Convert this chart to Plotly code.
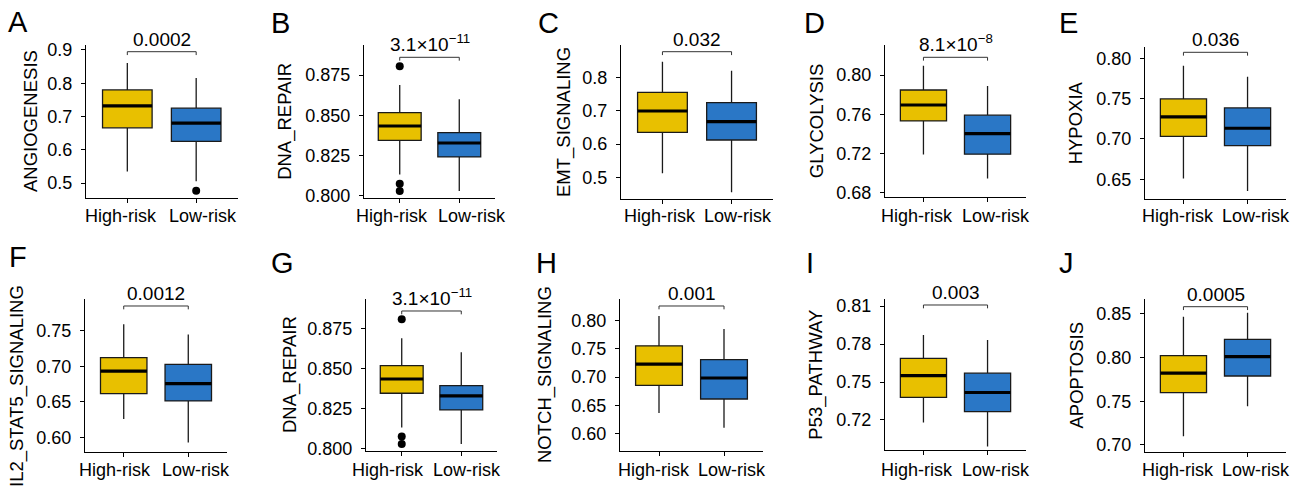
import plotly.graph_objects as go

# ---------------- data ----------------
panel_letters = ["A", "B", "C", "D", "E", "F", "G", "H", "I", "J"]
y_titles = ["ANGIOGENESIS", "DNA_REPAIR", "EMT_SIGNALING", "GLYCOLYSIS", "HYPOXIA",
            "IL2_STAT5_SIGNALING", "DNA_REPAIR", "NOTCH_SIGNALING", "P53_PATHWAY", "APOPTOSIS"]
p_values = ["0.0002", "3.1×10<sup>−11</sup>", "0.032", "8.1×10<sup>−8</sup>", "0.036",
            "0.0012", "3.1×10<sup>−11</sup>", "0.001", "0.003", "0.0005"]
groups = ["High-risk", "Low-risk"]

high_lower = [0.535, 0.813, 0.512, 0.719, 0.651, 0.626, 0.813, 0.636, 0.718, 0.710]
high_q1 = [0.666, 0.8344, 0.635, 0.7532, 0.7032, 0.6618, 0.8344, 0.6852, 0.7379, 0.760]
high_median = [0.732, 0.8433, 0.699, 0.7694, 0.7273, 0.6933, 0.8433, 0.723, 0.755, 0.7822]
high_q3 = [0.780, 0.8517, 0.755, 0.7847, 0.7496, 0.7123, 0.8517, 0.7553, 0.7686, 0.8023]
high_upper = [0.861, 0.8688, 0.847, 0.8095, 0.7908, 0.7595, 0.8688, 0.8083, 0.7871, 0.8469]
high_outliers = [[], [0.8806, 0.8073, 0.8027], [], [], [], [], [0.8806, 0.8073, 0.8027], [], [], []]

low_lower = [0.505, 0.8027, 0.455, 0.6945, 0.6356, 0.593, 0.8027, 0.610, 0.699, 0.7443]
low_q1 = [0.625, 0.8240, 0.612, 0.7193, 0.6917, 0.6514, 0.8240, 0.661, 0.7266, 0.779]
low_median = [0.680, 0.8327, 0.667, 0.7403, 0.7133, 0.6757, 0.8327, 0.6982, 0.7417, 0.8011]
low_q3 = [0.725, 0.8392, 0.724, 0.759, 0.7385, 0.7028, 0.8392, 0.7309, 0.757, 0.821]
low_upper = [0.816, 0.860, 0.820, 0.7888, 0.777, 0.745, 0.860, 0.785, 0.7832, 0.8515]
low_outliers = [[0.477], [], [], [], [], [], [], [], [], []]

# ---------------- axes / layout config ----------------
y_ranges = [(0.455, 0.915), (0.7986, 0.8938), (0.435, 0.897), (0.6753, 0.8306), (0.6256, 0.8144),
            (0.580, 0.7945), (0.7985, 0.8931), (0.5693, 0.8378), (0.6963, 0.8153), (0.6923, 0.8668)]
y_tick0 = [0.5, 0.8, 0.5, 0.68, 0.65, 0.60, 0.8, 0.60, 0.72, 0.70]
y_dtick = [0.1, 0.025, 0.1, 0.04, 0.05, 0.05, 0.025, 0.05, 0.03, 0.05]
y_fmt = [".1f", ".3f", ".1f", ".2f", ".2f", ".2f", ".3f", ".2f", ".2f", ".2f"]

W, H = 1303, 486
px_x0 = [86, 364, 621, 885, 1145, 85, 366, 620, 885, 1145]
px_x1 = [237.5, 495, 773, 1026, 1286, 227, 497, 763, 1026, 1286]
px_top = [45, 45, 45, 45, 46.7, 299.3, 299.3, 299.3, 299.3, 299.3]
px_bot = [198, 197.7, 199, 197.3, 199, 451.7, 450.7, 450.7, 450, 451.7]
px_bracket = [51.7, 57.3, 51.7, 57.3, 52.3, 306, 311, 306, 305, 306.7]
px_letter_x = [6, 269, 536, 802, 1057, 7, 269, 534, 804, 1057]
px_letter_y = [22, 23, 23, 23, 23, 257, 263, 263, 263, 263]
px_title_x = [30.5, 285.5, 564, 816, 1075.5, 17, 290, 545, 816, 1076]
px_title_y = [None, None, None, None, None, 386, None, None, None, None]
px_xlab_hi = [121.3, 392, 659.5, 916.7, 1177.8, 115.5, 387.5, 653.8, 916.7, 1177.5]
px_xlab_lo = [202.8, 472, 738, 996, 1256.3, 196, 467, 731.7, 995.5, 1256.3]
px_xlab_y = [216, 216, 216, 216, 216, 470, 470, 470, 470, 470]

YELLOW = "#E8C000"
BLUE = "#2A77C6"
FONT = "Liberation Sans, Arial, Helvetica, sans-serif"
BOXW = 0.72

fig = go.Figure()
annotations = []
layout = {}

for i in range(10):
    n = i + 1
    xa = "x" if n == 1 else f"x{n}"
    ya = "y" if n == 1 else f"y{n}"
    r0, r1 = y_ranges[i]

    stats = [
        (1, high_lower[i], high_q1[i], high_median[i], high_q3[i], high_upper[i], high_outliers[i], YELLOW),
        (2, low_lower[i], low_q1[i], low_median[i], low_q3[i], low_upper[i], low_outliers[i], BLUE),
    ]
    for (xc, lo, q1, med, q3, hi, outs, col) in stats:
        fig.add_trace(go.Box(
            x=[xc], q1=[q1], median=[med], q3=[q3], lowerfence=[lo], upperfence=[hi],
            width=BOXW, fillcolor=col, line=dict(color="#1a1a1a", width=1.3),
            whiskerwidth=0, boxpoints=False, xaxis=xa, yaxis=ya, showlegend=False,
            hoverinfo="skip"))
        fig.add_trace(go.Scatter(
            x=[xc - BOXW / 2, xc + BOXW / 2], y=[med, med], mode="lines",
            line=dict(color="black", width=3.2), xaxis=xa, yaxis=ya,
            showlegend=False, hoverinfo="skip"))
        if outs:
            fig.add_trace(go.Scatter(
                x=[xc] * len(outs), y=outs, mode="markers",
                marker=dict(color="black", size=8), xaxis=xa, yaxis=ya,
                showlegend=False, hoverinfo="skip", cliponaxis=False))

    # bracket
    span = r1 - r0
    frac = (px_bracket[i] - px_top[i]) / (px_bot[i] - px_top[i])
    by = r1 - frac * span
    d = 0.022 * span
    fig.add_trace(go.Scatter(
        x=[1, 1, 2, 2], y=[by - d, by, by, by - d], mode="lines",
        line=dict(color="#333333", width=1), xaxis=xa, yaxis=ya,
        showlegend=False, hoverinfo="skip", cliponaxis=False))
    annotations.append(dict(
        x=1.5, y=by, xref=xa, yref=ya, text=p_values[i], showarrow=False,
        yanchor="bottom", yshift=0, font=dict(family=FONT, size=19, color="black")))

    dom_x = [px_x0[i] / W, px_x1[i] / W]
    dom_y = [1 - px_bot[i] / H, 1 - px_top[i] / H]
    axis_common = dict(showline=True, linecolor="black", linewidth=1.2, ticks="outside",
                       ticklen=4, tickwidth=1.2, tickcolor="black", showgrid=False,
                       zeroline=False, fixedrange=True, automargin=False,
                       tickfont=dict(family=FONT, size=18, color="black"))
    layout["xaxis" if n == 1 else f"xaxis{n}"] = dict(
        domain=dom_x, range=[0.4, 2.6], tickvals=[1, 2], ticktext=groups,
        showticklabels=False, anchor=ya, **axis_common)
    layout["yaxis" if n == 1 else f"yaxis{n}"] = dict(
        domain=dom_y, range=[r0, r1], tick0=y_tick0[i], dtick=y_dtick[i],
        tickformat=y_fmt[i], anchor=xa, ticklabelstandoff=5, **axis_common)

    # x category labels
    for gx, g in zip([px_xlab_hi[i], px_xlab_lo[i]], groups):
        annotations.append(dict(
            x=gx / W, y=1 - px_xlab_y[i] / H, xref="paper", yref="paper", text=g,
            showarrow=False, xanchor="center", yanchor="middle",
            font=dict(family=FONT, size=18, color="black")))

    # panel letter
    annotations.append(dict(
        x=px_letter_x[i] / W, y=1 - px_letter_y[i] / H, xref="paper", yref="paper",
        text=panel_letters[i], showarrow=False, xanchor="left", yanchor="middle",
        font=dict(family=FONT, size=29, color="black")))
    # y title
    ty = px_title_y[i] if px_title_y[i] is not None else (px_top[i] + px_bot[i]) / 2
    annotations.append(dict(
        x=px_title_x[i] / W, y=1 - ty / H, xref="paper", yref="paper",
        text=y_titles[i], showarrow=False, textangle=-90, xanchor="center", yanchor="middle",
        font=dict(family=FONT, size=18.5, color="black")))

fig.update_layout(
    width=W, height=H, margin=dict(l=0, r=0, t=0, b=0),
    paper_bgcolor="white", plot_bgcolor="white",
    annotations=annotations, showlegend=False, **layout)

fig.write_html("out.html", config={"displayModeBar": False},
               post_script="document.body.style.margin='0px';document.body.style.overflow='hidden';")
